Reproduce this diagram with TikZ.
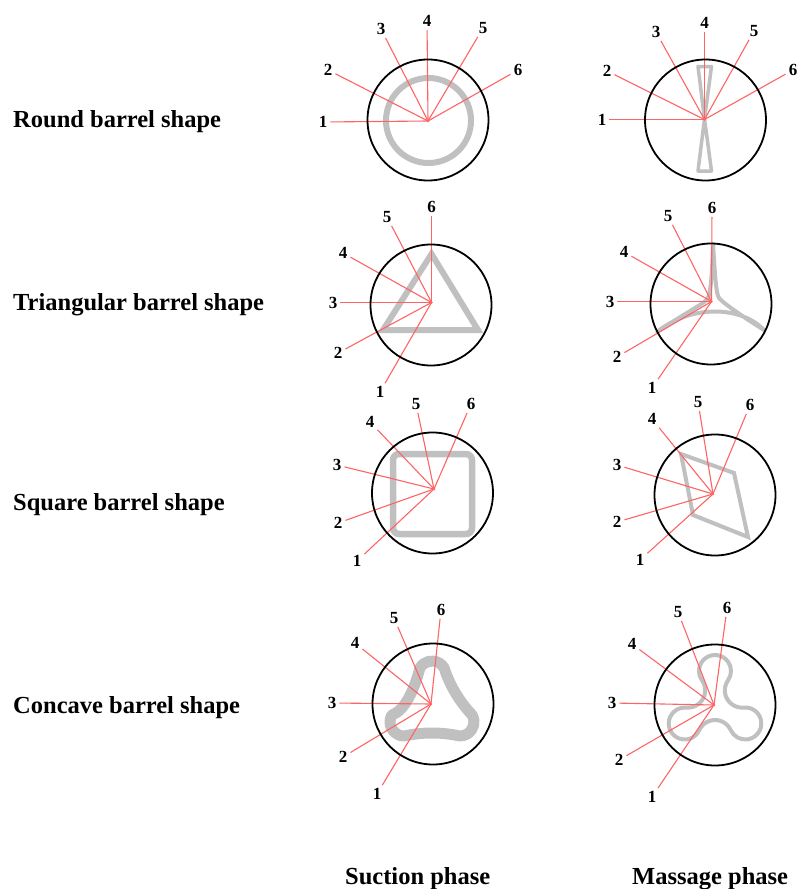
\documentclass[tikz,border=0pt]{standalone}
\usepackage{fontspec}
\setmainfont{Liberation Serif}
\definecolor{spokered}{RGB}{255,100,100}
\definecolor{barrelgray}{RGB}{192,192,192}
\tikzset{
	rim/.style={draw=black, line width=1.8pt},
	spoke/.style={draw=spokered, line width=1.1pt},
	num/.style={font=\fontsize{17}{20}\selectfont\bfseries, inner sep=3pt},
	rowtitle/.style={font=\fontsize{24.5}{29}\selectfont\bfseries, anchor=base west, inner sep=0pt},
	barrel/.style={draw=barrelgray, line join=round},
}
\def\hub(#1){\fill[spokered] (#1) circle (1.4);}

\begin{document}
\begin{tikzpicture}[x=1pt, y=-1pt]
			%%%%% START %%%%%
			\useasboundingbox (0,0) rectangle (796,889);
			
			\node[rowtitle] (tRound) at (13,127) {Round barrel shape};
			\node[rowtitle] (tTri) at (13,310) {Triangular barrel shape};
			\node[rowtitle] (tSquare) at (13,510) {Square barrel shape};
			\node[rowtitle] (tConcave) at (13,713) {Concave barrel shape};
			\node[rowtitle] (tSuction) at (345,884) {Suction phase};
			\node[rowtitle] (tMassage) at (632,884) {Massage phase};
			
			% round, suction
			\coordinate (rS) at (428,121);
			\draw[barrel, line width=6pt] (428.5,120.5) circle (42.5);
			\foreach \n/\x/\y in {1/323/122, 2/328/70, 3/381/29, 4/427/21, 5/483/28, 6/518/70}{
				\node[num] (rS\n) at (\x,\y) {\n};
				\draw[spoke] (rS) -- (rS\n);
			}
			\draw[rim] (428,120) circle (60.5);
			\hub(rS)
			
			% round, massage
			\coordinate (rM) at (704.5,119.5);
			\draw[barrel, line width=3.5pt] (698,66.5) -- (711.5,66.5) -- (704.5,119) -- (711.5,171) -- (698,171) -- (704.5,119) -- cycle;
			\foreach \n/\x/\y in {1/602/119.5, 2/607/71, 3/656/32, 4/704.5/23, 5/754/31, 6/793/70}{
				\node[num] (rM\n) at (\x,\y) {\n};
				\draw[spoke] (rM) -- (rM\n);
			}
			\draw[rim] (705.5,120) circle (60.5);
			\hub(rM)
			
			% triangular, suction
			\coordinate (tS) at (431.5,302.5);
			\draw[barrel, line width=6pt, line join=miter] (431.5,254) -- (383,330) -- (478,330) -- cycle;
			\foreach \n/\x/\y in {1/380/392, 2/338/353, 3/333/302.5, 4/343/253, 5/387/217, 6/431.5/207}{
				\node[num] (tS\n) at (\x,\y) {\n};
				\draw[spoke] (tS) -- (tS\n);
			}
			\draw[rim] (431,305) circle (60.5);
			\hub(tS)
			
			% triangular, massage
			\coordinate (tM) at (711.5,301.5);
			\draw[barrel, line width=4pt] (713,244) .. controls (712,275) and (711,290) .. (708,298)
				.. controls (706,303) and (680,316) .. (657,332)
				.. controls (690,305) and (740,305) .. (764,330)
				.. controls (745,318) and (724,304) .. (719,298)
				.. controls (716,294) and (715,275) .. (713,244) -- cycle;
			\foreach \n/\x/\y in {1/652/388, 2/617/357, 3/610/301.5, 4/624/252, 5/668/216, 6/712/208}{
				\node[num] (tM\n) at (\x,\y) {\n};
				\draw[spoke] (tM) -- (tM\n);
			}
			\draw[rim] (711,304) circle (60.5);
			\hub(tM)
			
			% square, suction
			\coordinate (sS) at (434,489);
			\draw[barrel, line width=6.5pt, rounded corners=6] (393,454) rectangle (472,534);
			\foreach \n/\x/\y in {1/357/561, 2/338/523, 3/337/465, 4/370/422, 5/416/404, 6/471/404}{
				\node[num] (sS\n) at (\x,\y) {\n};
				\draw[spoke] (sS) -- (sS\n);
			}
			\draw[rim] (432.5,493) circle (60.5);
			\hub(sS)
			
			% square, massage
			\coordinate (sM) at (713,494);
			\draw[barrel, line width=4pt, line join=miter] (681,454) -- (734,473) -- (748,537) -- (693,515) -- cycle;
			\foreach \n/\x/\y in {1/640/560, 2/617/522, 3/617/465, 4/652/419, 5/698/402, 6/750/405}{
				\node[num] (sM\n) at (\x,\y) {\n};
				\draw[spoke] (sM) -- (sM\n);
			}
			\draw[rim] (715,495) circle (60.5);
			\hub(sM)
			
			% concave, suction
			\coordinate (cS) at (431,704);
			\draw[barrel, line width=11pt] (419.9,668) arc[start angle=-150, end angle=-30, radius=14]
				.. controls (449.9,685.7) and (459.3,701.3) .. (472.1,715)
				arc[start angle=-30, end angle=90, radius=14]
				.. controls (441.3,732) and (422.7,732) .. (404,736)
				arc[start angle=90, end angle=210, radius=14]
				.. controls (404.7,710.7) and (414.1,690.3) .. (419.9,668) -- cycle;
			\foreach \n/\x/\y in {1/377/794, 2/343/757, 3/332/703, 4/355/643, 5/394/618, 6/441/610}{
				\node[num] (cS\n) at (\x,\y) {\n};
				\draw[spoke] (cS) -- (cS\n);
			}
			\draw[rim] (433,704) circle (60.5);
			\hub(cS)
			
			% concave, massage
			\coordinate (cM) at (714,705);
			\draw[barrel, line width=4pt] (715,706) ++(-90:35) ++(-215.5:16)
				arc[start angle=-215.5, end angle=35.5, radius=16]
				arc[start angle=-144.5, end angle=-275.5, radius=17.3]
				arc[start angle=-95.5, end angle=155.5, radius=16]
				arc[start angle=-24.5, end angle=-155.5, radius=17.3]
				arc[start angle=24.5, end angle=275.5, radius=16]
				arc[start angle=95.5, end angle=-35.5, radius=17.3] -- cycle;
			\foreach \n/\x/\y in {1/652/797, 2/619/760, 3/612/703, 4/632/644, 5/678/612, 6/727/608}{
				\node[num] (cM\n) at (\x,\y) {\n};
				\draw[spoke] (cM) -- (cM\n);
			}
			\draw[rim] (715,705) circle (60.5);
			\hub(cM)
			
			%%%%% END %%%%%
\end{tikzpicture}
\end{document}
